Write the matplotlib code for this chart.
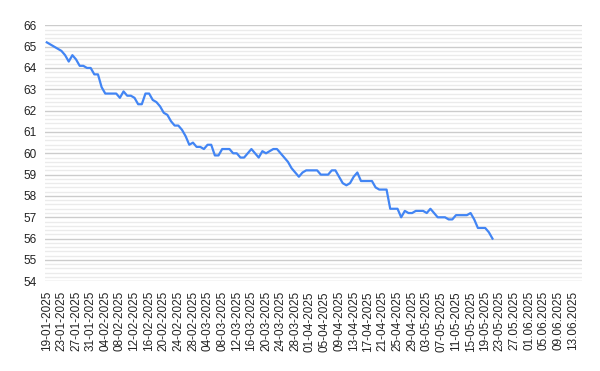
import matplotlib
matplotlib.use("Agg")
import matplotlib.pyplot as plt
from matplotlib.ticker import MultipleLocator

# daily values, 19-01-2025 .. 21-05-2025
values = [
    65.2, 65.1, 65.0, 64.9, 64.8, 64.6, 64.3, 64.6, 64.4, 64.1,
    64.1, 64.0, 64.0, 63.7, 63.7, 63.1, 62.8, 62.8, 62.8, 62.8,
    62.6, 62.9, 62.7, 62.7, 62.6, 62.3, 62.3, 62.8, 62.8, 62.5,
    62.4, 62.2, 61.9, 61.8, 61.5, 61.3, 61.3, 61.1, 60.8, 60.4,
    60.5, 60.3, 60.3, 60.2, 60.4, 60.4, 59.9, 59.9, 60.2, 60.2,
    60.2, 60.0, 60.0, 59.8, 59.8, 60.0, 60.2, 60.0, 59.8, 60.1,
    60.0, 60.1, 60.2, 60.2, 60.0, 59.8, 59.6, 59.3, 59.1, 58.9,
    59.1, 59.2, 59.2, 59.2, 59.2, 59.0, 59.0, 59.0, 59.2, 59.2,
    58.9, 58.6, 58.5, 58.6, 58.9, 59.1, 58.7, 58.7, 58.7, 58.7,
    58.4, 58.3, 58.3, 58.3, 57.4, 57.4, 57.4, 57.0, 57.3, 57.2,
    57.2, 57.3, 57.3, 57.3, 57.2, 57.4, 57.2, 57.0, 57.0, 57.0,
    56.9, 56.9, 57.1, 57.1, 57.1, 57.1, 57.2, 56.9, 56.5, 56.5,
    56.5, 56.3, 56.0,
]

tick_labels = [
    "19-01-2025", "23-01-2025", "27-01-2025", "31-01-2025", "04-02-2025",
    "08-02-2025", "12-02-2025", "16-02-2025", "20-02-2025", "24-02-2025",
    "28-02-2025", "04-03-2025", "08-03-2025", "12-03-2025", "16-03-2025",
    "20-03-2025", "24-03-2025", "28-03-2025", "01-04-2025", "05-04-2025",
    "09-04-2025", "13-04-2025", "17-04-2025", "21-04-2025", "25-04-2025",
    "29-04-2025", "03-05-2025", "07-05-2025", "11-05-2025", "15-05-2025",
    "19-05-2025", "23-05-2025", "27.05.2025", "01.06.2025", "05.06.2025",
    "09.06.2025", "13.06.2025",
]

n_categories = 147
label_step = 4

fig = plt.figure(figsize=(6, 3.71), dpi=100)
ax = fig.add_axes([0.075, 0.2418, 0.895, 0.69])

ax.plot(range(len(values)), values, color="#4285f4", linewidth=1.6,
        solid_joinstyle="round", zorder=3)

ax.set_xlim(-0.5, n_categories - 0.5)
ax.set_ylim(54, 66)

ax.yaxis.set_major_locator(MultipleLocator(1))
ax.yaxis.set_minor_locator(MultipleLocator(0.2))
ax.grid(axis="y", which="major", color="#cccccc", linewidth=1)
ax.grid(axis="y", which="minor", color="#ebebeb", linewidth=1)
ax.set_axisbelow(True)

ax.set_xticks(range(0, len(tick_labels) * label_step, label_step))
ax.set_xticklabels(tick_labels, rotation=90, fontsize=8.5, color="#222222",
                   family="Liberation Sans")
for lbl in ax.get_yticklabels():
    lbl.set_fontfamily("Liberation Sans")
ax.tick_params(axis="y", which="both", length=0, pad=6, labelsize=8.5,
               labelcolor="#222222")
ax.tick_params(axis="x", length=0, pad=7)

for s in ax.spines.values():
    s.set_visible(False)

fig.savefig("out.png", dpi=100)
